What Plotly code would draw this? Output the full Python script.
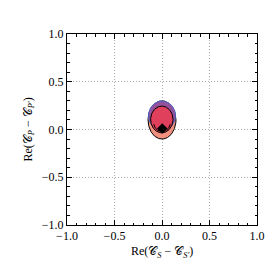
import numpy as np
import plotly.graph_objects as go

# Contour regions (ellipse approximations): centre x, centre y, semi-axes
region_names = ["salmon_outer", "purple_outer", "crimson_inner"]
centre_x = [0.0, 0.0, -0.002]
centre_y = [0.10, 0.145, 0.105]
semi_x = [0.147, 0.142, 0.118]
semi_y = [0.20, 0.153, 0.14]
fill_colors = ["#f2907f", "#94529c", "#e0405c"]
edge_colors = ["black", "#4a66c8", "black"]

# inner lower contour arc: centre x, centre y, semi-axes
arc_cx, arc_cy, arc_rx, arc_ry = [0.0], [0.07], [0.088], [0.09]

best_fit_x = [0.003]
best_fit_y = [0.01]

tick_vals = [-1.0, -0.5, 0.0, 0.5, 1.0]
tick_text = ["\u22121.0", "\u22120.5", "0.0", "0.5", "1.0"]

fig = go.Figure()
t = np.linspace(0, 2 * np.pi, 160)
for cx, cy, ax_, ay_, col, ec in zip(centre_x, centre_y, semi_x, semi_y, fill_colors, edge_colors):
    fig.add_trace(go.Scatter(
        x=cx + ax_ * np.cos(t), y=cy + ay_ * np.sin(t),
        mode="lines", fill="toself", fillcolor=col,
        line=dict(color=ec, width=1), showlegend=False, hoverinfo="skip"))

ta = np.linspace(np.pi * 1.05, np.pi * 1.95, 60)
fig.add_trace(go.Scatter(x=arc_cx[0] + arc_rx[0] * np.cos(ta), y=arc_cy[0] + arc_ry[0] * np.sin(ta),
                         mode="lines", line=dict(color="black", width=1),
                         showlegend=False, hoverinfo="skip"))

fig.add_trace(go.Scatter(x=best_fit_x, y=best_fit_y, mode="markers",
                         marker=dict(symbol="diamond", size=8, color="black"),
                         showlegend=False))

font = "Liberation Serif, Times New Roman, serif"
axis_common = dict(
    range=[-1, 1], tickvals=tick_vals, ticktext=tick_text,
    ticks="inside", ticklen=5, tickcolor="black", tickwidth=1,
    showline=True, linecolor="black", linewidth=1, mirror="ticks",
    showgrid=True, gridcolor="#aaaaaa", griddash="1px,2px", gridwidth=1,
    zeroline=False, automargin=False,
    minor=dict(dtick=0.1, ticks="inside", ticklen=2.5, tickcolor="black", showgrid=False),
    tickfont=dict(family=font, size=12, color="black"),
)
fig.update_xaxes(**axis_common)
fig.update_yaxes(**axis_common)
title_font = dict(family=font, size=12, color="black")
fig.add_annotation(text="Re(\U0001D49E<sub><i>S</i></sub> \u2212 \U0001D49E<sub><i>S\u2032</i></sub>)",
                   xref="paper", yref="paper", x=0.5, y=0, xanchor="center", yanchor="middle",
                   yshift=-27, showarrow=False, font=title_font)
fig.add_annotation(text="Re(\U0001D49E<sub><i>P</i></sub> \u2212 \U0001D49E<sub><i>P\u2032</i></sub>)",
                   xref="paper", yref="paper", x=0, y=0.5, xanchor="center", yanchor="middle",
                   xshift=-39, textangle=-90, showarrow=False, font=title_font)
fig.update_layout(width=270, height=270, margin=dict(l=67, r=13, t=34, b=45),
                  plot_bgcolor="white", paper_bgcolor="white")
fig.write_html("out.html", config={"displayModeBar": False},
               post_script="document.body.style.margin='0';")
